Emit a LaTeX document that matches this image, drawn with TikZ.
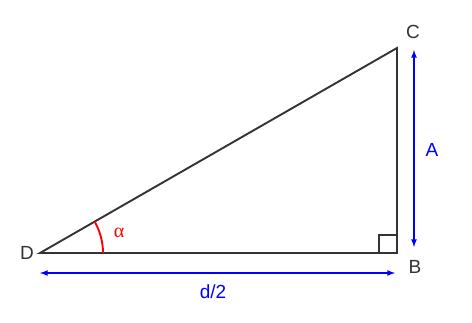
\documentclass[tikz,border=0pt]{standalone}
\usepackage{fontspec}
\setmainfont{Liberation Sans}
\newfontfamily\greekfont{Liberation Serif}
\definecolor{edgegray}{HTML}{333333}
\begin{document}
\begin{tikzpicture}[x=1pt, y=1pt, >=latex, line width=1.9pt,
    font=\fontsize{19}{22}\selectfont]
    \useasboundingbox (0,0) rectangle (472,322);
    % ── Triángulo ──────────────────────────────────────────────────────
    \coordinate (D) at (40,69);
    \coordinate (B) at (397,69);
    \coordinate (C) at (397,274);
    \draw[edgegray, line join=miter] (D) -- (B) -- (C) -- cycle;
    \draw[edgegray, line width=1.3pt] (379,69) rectangle (397,87);

    \node[text=edgegray] (lD) at (27,69) {D};
    \node[text=edgegray] (lB) at (415,55) {B};
    \node[text=edgegray] (lC) at (413,290) {C};

    % ── Ángulo ─────────────────────────────────────────────────────────
    \draw[red] ([shift={(63,0)}]D) arc[start angle=0, end angle=29.9, radius=63];
    \node[text=red, font=\fontsize{20}{22}\greekfont] (alpha) at (119,89) {α};

    % ── Cotas ──────────────────────────────────────────────────────────
    \coordinate (dl) at (40,49);
    \coordinate (dr) at (395,49);
    \draw[<->, blue, line width=1.6pt] (dl) -- (dr);
    \node[text=blue] (ld) at (213,30) {d/2};

    \coordinate (at) at (414,272);
    \coordinate (ab) at (414,75);
    \draw[<->, blue, line width=1.6pt] (at) -- (ab);
    \node[text=blue] (lA) at (432,172) {A};
  \end{tikzpicture}
\end{document}
